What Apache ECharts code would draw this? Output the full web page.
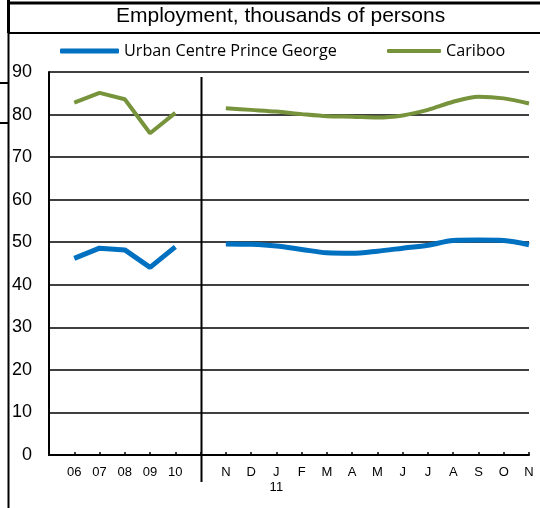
<!DOCTYPE html>
<html>
<head>
<meta charset="utf-8">
<script src="https://cdn.jsdelivr.net/npm/echarts@6/dist/echarts.min.js"></script>
<style>
html,body{margin:0;padding:0;background:#fff;}
#c{width:540px;height:508px;}
</style>
</head>
<body>
<div id="c"></div>
<script>
// ---- data ----
const categories = ['', '06', '07', '08', '09', '10', '', 'N', 'D', 'J', 'F', 'M', 'A', 'M', 'J', 'J', 'A', 'S', 'O', 'N'];
const yearSubLabels = ['', '', '', '', '', '', '', '', '', '11', '', '', '', '', '', '', '', '', '', ''];
const seriesNames = ['Urban Centre Prince George', 'Cariboo'];
const pgAnnual = [46.2, 48.6, 48.2, 44.1, 48.9];
const pgMonthly = [49.6, 49.5, 49.1, 48.3, 47.5, 47.4, 47.9, 48.6, 49.3, 50.4, 50.5, 50.4, 49.4];
const caribooAnnual = [82.8, 85.1, 83.6, 75.6, 80.4];
const caribooMonthly = [81.5, 81.1, 80.7, 80.1, 79.6, 79.5, 79.3, 79.8, 81.1, 83.0, 84.2, 83.8, 82.6];
const yMin = 0, yMax = 90, yStep = 10;
const titleText = 'Employment, thousands of persons';

// ---- build ----
const annualStart = 1;            // index of '06'
const separatorIndex = 6;         // empty slot between annual and monthly
const monthlyStart = 7;           // index of first 'N'
function pad(values, start) {
  const arr = new Array(categories.length).fill(null);
  values.forEach((v, i) => { arr[start + i] = v; });
  return arr;
}
const BLUE = '#0070C0', GREEN = '#77933C';
const FONT = '"Liberation Sans", Arial, sans-serif';
const LEGEND_FONT = '"Open Sans", sans-serif';

const chart = echarts.init(document.getElementById('c'), null, {renderer: 'canvas'});
const option = {
  animation: false,
  backgroundColor: '#fff',
  title: {
    text: titleText, left: 116, top: 6, padding: 0,
    textStyle: {fontFamily: FONT, fontSize: 21, fontWeight: 'normal', color: '#000'}
  },
  legend: [
    {data: [seriesNames[0]], left: 60, top: 43, padding: 0, itemWidth: 59, itemHeight: 5, icon: 'roundRect',
     textStyle: {fontFamily: LEGEND_FONT, fontSize: 16.2, color: '#000'}},
    {data: [seriesNames[1]], left: 387, top: 43, padding: 0, itemWidth: 54, itemHeight: 4, icon: 'roundRect',
     textStyle: {fontFamily: LEGEND_FONT, fontSize: 16.2, color: '#000'}}
  ],
  grid: {left: 49, right: 11, top: 72, bottom: 53, containLabel: false},
  xAxis: {
    type: 'category', data: categories, boundaryGap: false,
    axisLine: {show: true, lineStyle: {color: '#000', width: 2}},
    axisTick: {show: true, inside: true, length: 3, interval: 0, lineStyle: {color: '#000', width: 1.5}},
    axisLabel: {
      interval: 0, margin: 10, fontFamily: FONT, fontSize: 13, color: '#000', lineHeight: 15,
      formatter: (v, i) => yearSubLabels[i] ? v + '\n' + yearSubLabels[i] : v
    },
    splitLine: {show: false}
  },
  yAxis: {
    type: 'value', min: yMin, max: yMax, interval: yStep,
    axisLine: {show: true, lineStyle: {color: '#000', width: 2}},
    axisTick: {show: false},
    axisLabel: {margin: 17, fontFamily: FONT, fontSize: 18, color: '#000'},
    splitLine: {show: true, lineStyle: {color: '#000', width: 1.5}}
  },
  series: [
    {name: seriesNames[0], type: 'line', data: pad(pgAnnual, annualStart), showSymbol: false, symbol: 'none',
     lineStyle: {color: BLUE, width: 5}, itemStyle: {color: BLUE}, connectNulls: false, z: 3},
    {name: seriesNames[0], type: 'line', data: pad(pgMonthly, monthlyStart), showSymbol: false, symbol: 'none', smooth: 0.3,
     lineStyle: {color: BLUE, width: 5}, itemStyle: {color: BLUE}, z: 3},
    {name: seriesNames[1], type: 'line', data: pad(caribooAnnual, annualStart), showSymbol: false, symbol: 'none',
     lineStyle: {color: GREEN, width: 4}, itemStyle: {color: GREEN}, z: 3},
    {name: seriesNames[1], type: 'line', data: pad(caribooMonthly, monthlyStart), showSymbol: false, symbol: 'none', smooth: 0.3,
     lineStyle: {color: GREEN, width: 4}, itemStyle: {color: GREEN}, z: 3}
  ]
};
chart.setOption(option);

// separator line and frame
const sx = Math.round(chart.convertToPixel({xAxisIndex: 0}, separatorIndex)) + 0.5;
const yTop = chart.convertToPixel({yAxisIndex: 0}, yMax);
const yBottom = chart.convertToPixel({yAxisIndex: 0}, yMin);
chart.setOption({
  graphic: [
    {type: 'line', shape: {x1: sx, y1: yTop + 5, x2: sx, y2: yBottom + 27}, style: {stroke: '#000', lineWidth: 2}, z: 10},
    {type: 'line', shape: {x1: 7, y1: 3, x2: 540, y2: 3}, style: {stroke: '#000', lineWidth: 3}},
    {type: 'line', shape: {x1: 8.5, y1: 0, x2: 8.5, y2: 33}, style: {stroke: '#000', lineWidth: 3}},
    {type: 'line', shape: {x1: 8.5, y1: 33, x2: 8.5, y2: 508}, style: {stroke: '#000', lineWidth: 2}},
    {type: 'line', shape: {x1: 8, y1: 33, x2: 540, y2: 33}, style: {stroke: '#000', lineWidth: 2}},
    {type: 'line', shape: {x1: 0, y1: 83, x2: 8, y2: 83}, style: {stroke: '#000', lineWidth: 2}},
    {type: 'line', shape: {x1: 0, y1: 123, x2: 8, y2: 123}, style: {stroke: '#000', lineWidth: 2}}
  ]
});
</script>
</body>
</html>
